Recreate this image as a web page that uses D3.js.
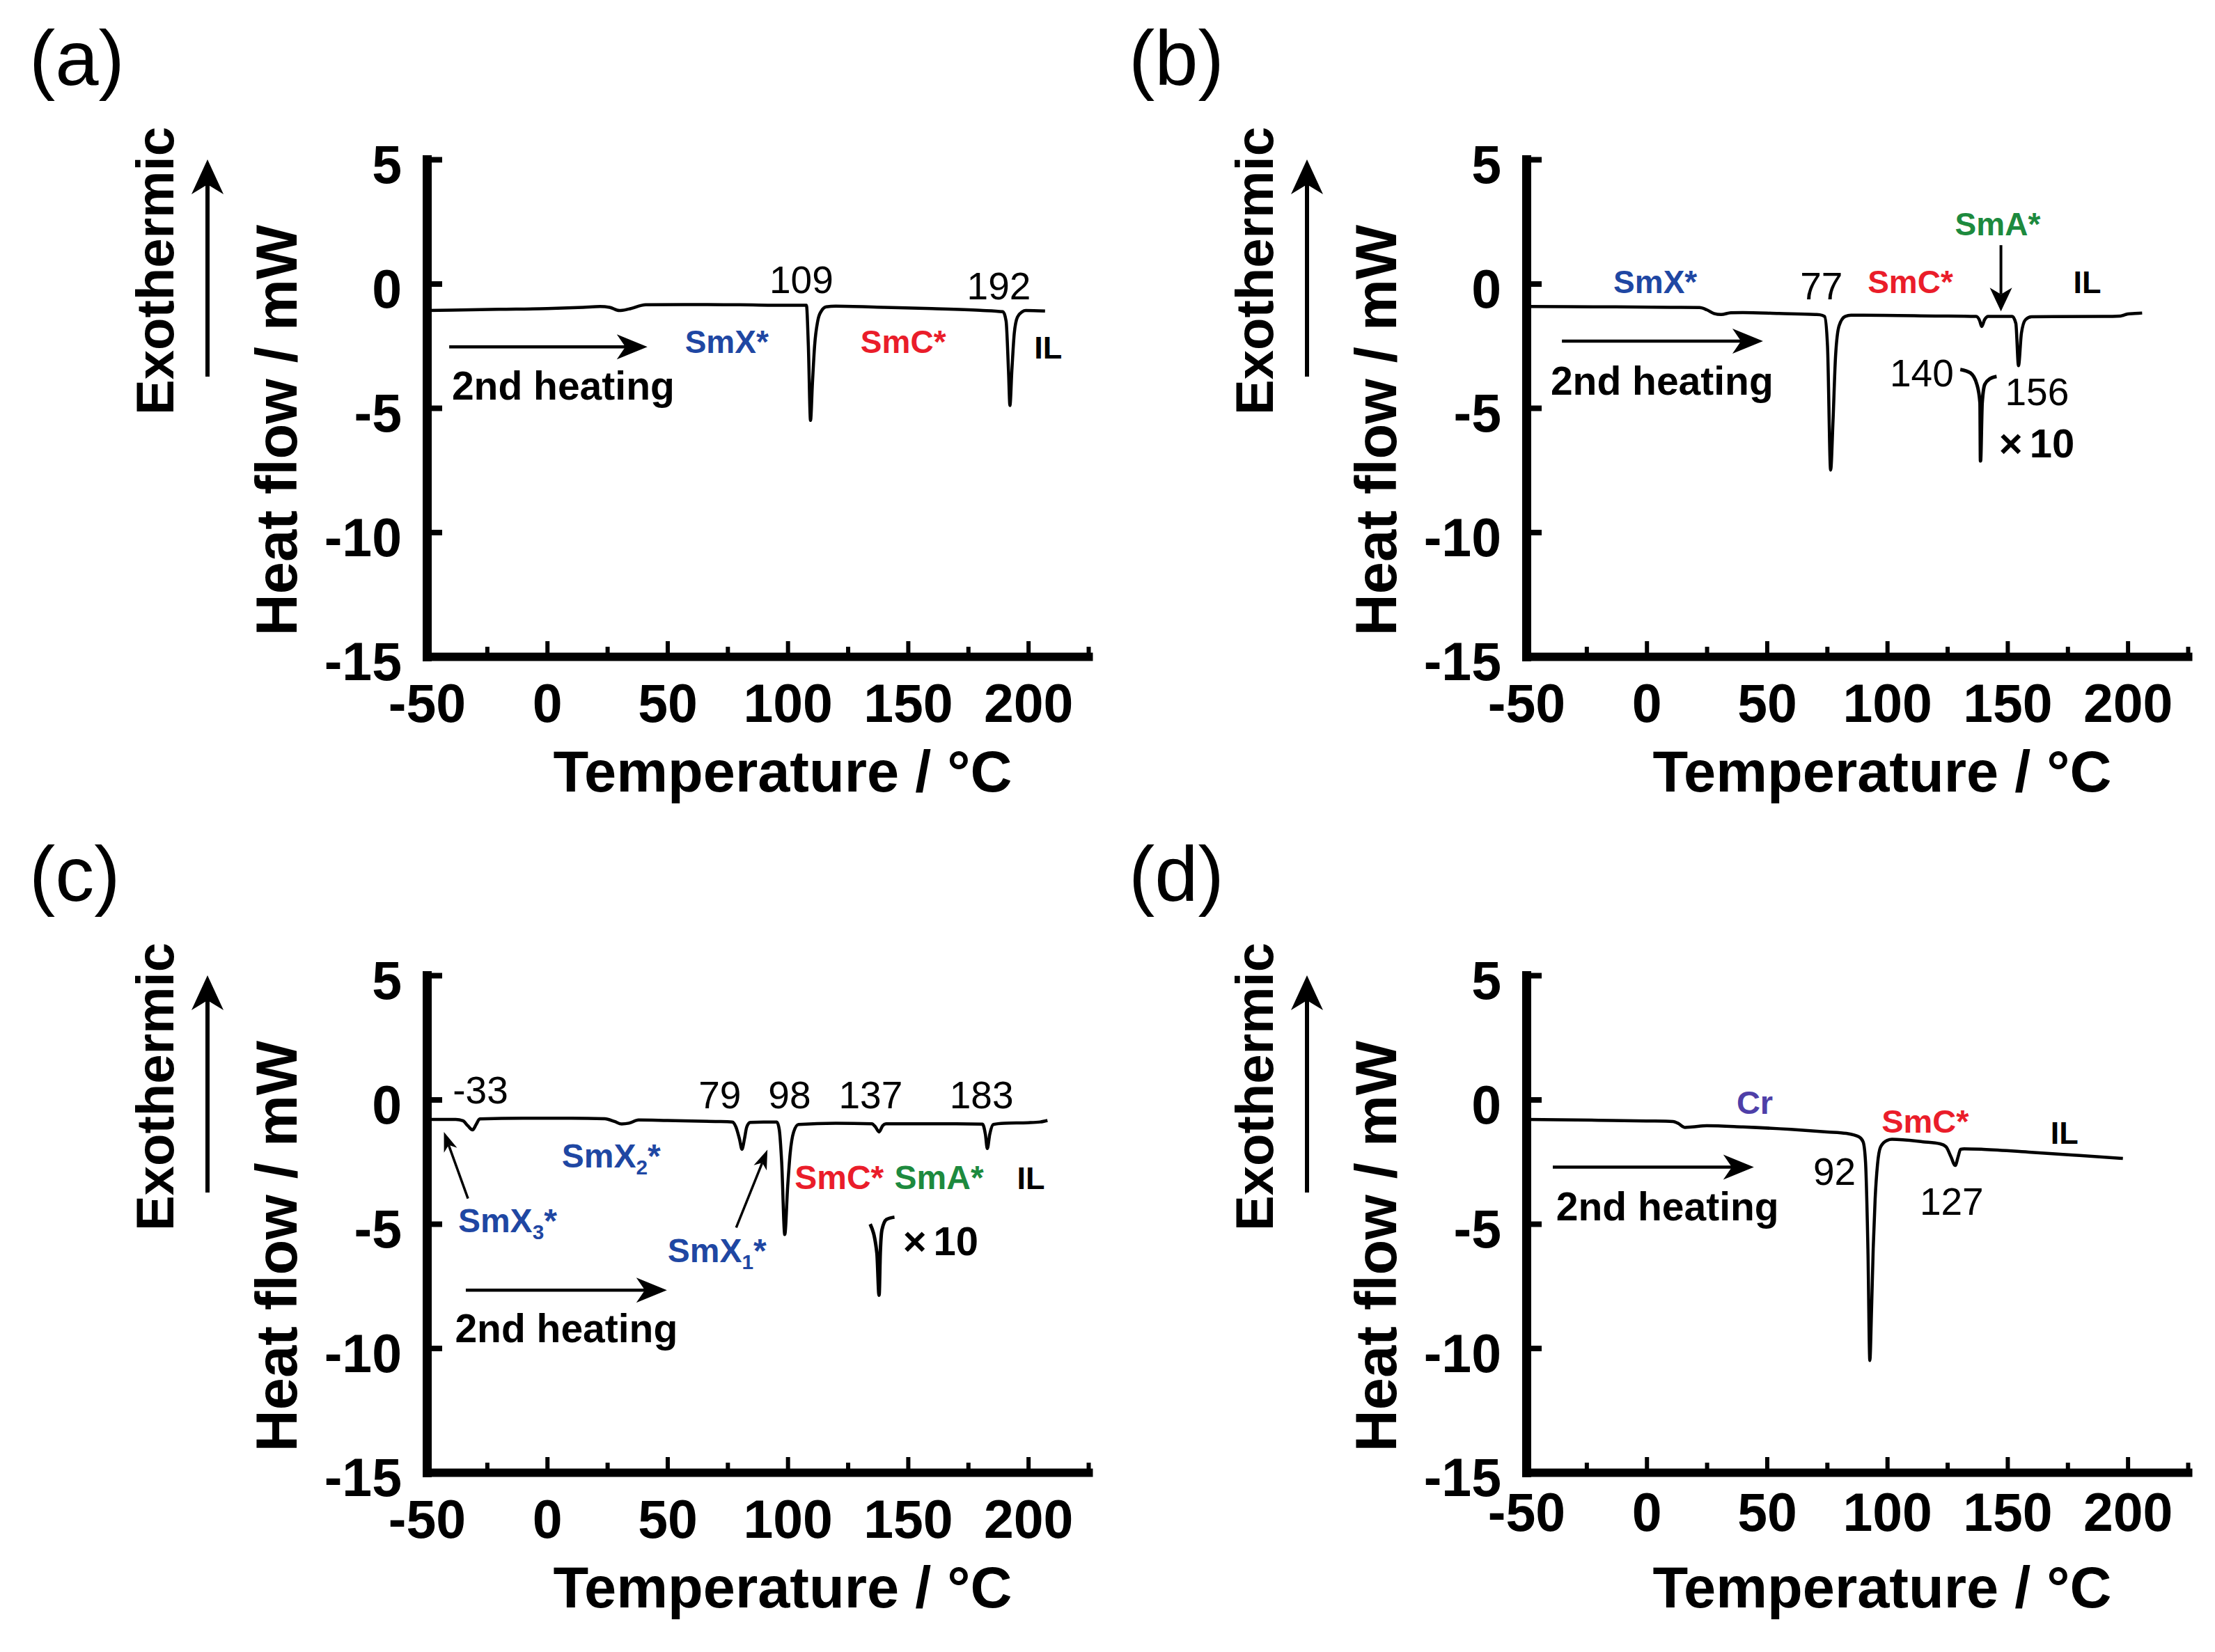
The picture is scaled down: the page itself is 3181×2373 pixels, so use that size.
<!DOCTYPE html>
<html><head><meta charset="utf-8">
<script src="https://cdn.jsdelivr.net/npm/d3@7"></script>
<style>
body{margin:0;background:#fff}
svg{display:block;background:#fff}
text{font-family:"Liberation Sans",Arial,Helvetica,sans-serif}
</style>
</head><body>
<svg id="chart" width="3181" height="2373"></svg>
<script>
// ---------- data ----------
const xTicks = [-50, 0, 50, 100, 150, 200];
const xMinorTicks = [-25, 25, 75, 125, 175, 225];
const yTicks = [5, 0, -5, -10, -15];
const panelLetters = ["(a)", "(b)", "(c)", "(d)"];

const tempA = [-50,-20,0,15,22,26,30,34,41,60,80,100,107.8,108.6,109.5,110.3,111.2,112.5,114,116,120,140,160,180,189.5,190.8,191.8,192.4,193.2,194.2,195.5,197.5,199,207];
const flowA = [-1.08,-1.03,-1.0,-0.95,-0.92,-0.95,-1.08,-1.02,-0.85,-0.84,-0.85,-0.87,-0.87,-2.5,-5.5,-4.0,-2.5,-1.5,-1.1,-0.93,-0.9,-0.95,-1.0,-1.07,-1.13,-1.5,-3.5,-4.9,-3.5,-2.0,-1.35,-1.13,-1.08,-1.1];

const tempB = [-50,-20,10,22,25,28,31,35,40,55,70,72,74,75.2,76.5,77.5,78.5,80,82.5,85,90,120,137,138.5,139.3,140.5,142,152,153.5,154.6,155.8,157.5,160,190,197,200,203,206];
const flowB = [-0.92,-0.93,-0.95,-0.96,-1.05,-1.2,-1.24,-1.17,-1.16,-1.2,-1.24,-1.25,-1.32,-2.5,-7.5,-5.5,-3.0,-1.7,-1.32,-1.27,-1.27,-1.3,-1.32,-1.5,-1.72,-1.45,-1.32,-1.32,-1.6,-3.3,-2.0,-1.45,-1.33,-1.32,-1.3,-1.22,-1.2,-1.18];
const insetTempB = [130.4,134.6,137.3,138.6,138.8,139.5,140.6,142.8,145.5];
const insetFlowB = [-3.45,-3.59,-4.05,-4.8,-7.13,-4.8,-4.05,-3.82,-3.73];

const tempC = [-50,-38,-35,-33,-31,-29.5,-28,-10,10,24,28,31,34,38,50,70,77,78.5,80,81,82,83,84.5,90,95.5,96.5,97.5,98.8,100,101,102.5,104.5,120,135,136.5,138,139.5,141,170,181,182.2,183,184,185.5,190,200,205,208];
const flowC = [-0.8,-0.8,-0.85,-1.05,-1.22,-1.0,-0.78,-0.75,-0.75,-0.77,-0.88,-0.98,-0.95,-0.82,-0.84,-0.88,-0.9,-1.1,-1.6,-2.0,-1.6,-1.1,-0.92,-0.9,-0.9,-1.2,-2.5,-5.43,-3.5,-2.2,-1.3,-1.0,-0.95,-0.97,-1.1,-1.3,-1.05,-0.97,-0.97,-0.99,-1.4,-1.97,-1.4,-1.0,-0.95,-0.93,-0.9,-0.84];
const insetTempC = [134.3,137.1,138.0,138.5,139.2,141.1,144.4];
const insetFlowC = [-5.01,-6.18,-7.87,-6.18,-5.24,-4.82,-4.73];

const tempD = [-50,-20,0,11,13,16,19,25,40,60,75,83,88.3,90,91,92,92.8,93.5,94.2,95,96,97.3,100,102,115,122,124.5,126.5,128.3,129.5,130.5,132,140,160,180,198];
const flowD = [-0.8,-0.83,-0.86,-0.88,-0.95,-1.12,-1.1,-1.05,-1.1,-1.2,-1.3,-1.36,-1.5,-1.7,-2.5,-6,-10.5,-8.5,-6,-4,-2.6,-1.9,-1.64,-1.6,-1.7,-1.78,-1.9,-2.3,-2.65,-2.3,-2.0,-1.98,-2.0,-2.12,-2.25,-2.37];

// annotations: text anchored at (temperature, heat flow)
const notesA = [
  {text:"109", t:105.7, f:-0.38, kind:"num"},
  {text:"192", t:187.8, f:-0.63, kind:"num"},
  {text:"SmX*", t:57.3, f:-2.79, kind:"phase"},
  {text:"SmC*", t:130.3, f:-2.79, kind:"phase"},
  {text:"IL", t:202.5, f:-3.01, kind:"il"},
  {text:"2nd heating", t:-39.6, f:-4.66, kind:"heat"}
];
const notesB = [
  {text:"SmX*", t:-13.8, f:-0.39, kind:"phase"},
  {text:"77", t:72.7, f:-0.63, kind:"num"},
  {text:"SmC*", t:91.9, f:-0.39, kind:"phase"},
  {text:"SmA*", t:128.2, f:1.95, kind:"phase"},
  {text:"IL", t:177.4, f:-0.39, kind:"il"},
  {text:"140", t:114.4, f:-4.13, kind:"num"},
  {text:"156", t:162.3, f:-4.88, kind:"num"},
  {text:"10", t:146.5, f:-6.98, kind:"mag"},
  {text:"2nd heating", t:-39.9, f:-4.46, kind:"heat"}
];
const notesC = [
  {text:"-33", t:-27.7, f:-0.15, kind:"num"},
  {text:"79", t:71.8, f:-0.34, kind:"num"},
  {text:"98", t:100.8, f:-0.34, kind:"num"},
  {text:"137", t:134.5, f:-0.34, kind:"num"},
  {text:"183", t:180.6, f:-0.34, kind:"num"},
  {text:"SmX2*", t:6.1, f:-2.73, kind:"phase"},
  {text:"SmC*", t:102.9, f:-3.61, kind:"phase"},
  {text:"SmA*", t:144.4, f:-3.61, kind:"phase"},
  {text:"IL", t:195.3, f:-3.61, kind:"il"},
  {text:"SmX3*", t:-37.0, f:-5.34, kind:"phase"},
  {text:"SmX1*", t:50.1, f:-6.55, kind:"phase"},
  {text:"10", t:147.9, f:-6.27, kind:"mag"},
  {text:"2nd heating", t:-38.3, f:-9.77, kind:"heat"}
];
const notesD = [
  {text:"Cr", t:37.4, f:-0.57, kind:"phase"},
  {text:"SmC*", t:97.7, f:-1.32, kind:"phase"},
  {text:"IL", t:167.9, f:-1.79, kind:"il"},
  {text:"92", t:78.1, f:-3.42, kind:"num"},
  {text:"127", t:126.8, f:-4.64, kind:"num"},
  {text:"2nd heating", t:-37.6, f:-4.87, kind:"heat"}
];

// arrows: from (t1,f1) to (t2,f2)
const arrowsA = [{t1:-40.7,f1:-2.54,t2:41.7,f2:-2.54,type:"big"}];
const arrowsB = [{t1:-35.2,f1:-2.31,t2:48.4,f2:-2.31,type:"big"},
                 {t1:147.3,f1:1.55,t2:147.3,f2:-1.11,type:"mid"}];
const arrowsC = [{t1:-33.8,f1:-7.67,t2:49.8,f2:-7.67,type:"big"},
                 {t1:-32.9,f1:-3.98,t2:-42.9,f2:-1.30,type:"small"},
                 {t1:78.6,f1:-5.15,t2:91.6,f2:-2.02,type:"small"}];
const arrowsD = [{t1:-39,f1:-2.72,t2:44.6,f2:-2.72,type:"big"}];

// ---------- drawing ----------
const phaseColor = {SmX:"#1f47a3", SmC:"#ea1d2a", SmA:"#1d8a3e", Cr:"#4e3fa8", IL:"#000000"};
const arrowStyle = {
  big:{w:4.5, len:44, hw:36},
  mid:{w:4, len:34, hw:32},
  small:{w:3.5, len:28, hw:20},
  exo:{w:6, len:50, hw:46}
};
const svg = d3.select("#chart");

function arrow(g, x1, y1, x2, y2, st) {
  const dx = x2 - x1, dy = y2 - y1, L = Math.hypot(dx, dy);
  const ux = dx / L, uy = dy / L, px = -uy, py = ux;
  const bx = x2 - ux * st.len, by = y2 - uy * st.len;
  const nx = x2 - ux * st.len * 0.72, ny = y2 - uy * st.len * 0.72;
  g.append("line").attr("x1", x1).attr("y1", y1).attr("x2", nx).attr("y2", ny)
    .attr("stroke", "#000").attr("stroke-width", st.w);
  g.append("path")
    .attr("d", `M${x2},${y2}L${bx + px * st.hw / 2},${by + py * st.hw / 2}L${nx},${ny}L${bx - px * st.hw / 2},${by - py * st.hw / 2}Z`)
    .attr("fill", "#000");
}

function drawPanel(p) {
  const g = svg.append("g");
  const ox = p.ox, oy = p.oy;
  const x = d3.scaleLinear().domain([-50, 225]).range([ox + 613, ox + 1563]);
  const y = d3.scaleLinear().domain([5, -15]).range([oy + 229, oy + 943]);

  // panel letter
  g.append("text").attr("x", ox + 42).attr("y", oy + 122).attr("font-size", 112).text(p.letter);

  // Exothermic + arrow
  g.append("text").attr("transform", `translate(${ox + 249},${oy + 389}) rotate(-90)`)
    .attr("text-anchor", "middle").attr("font-size", 76).attr("font-weight", "bold").text("Exothermic");
  arrow(g, ox + 298, oy + 541, ox + 298, oy + 229, arrowStyle.exo);

  // axis titles
  g.append("text").attr("transform", `translate(${ox + 426},${oy + 618}) rotate(-90)`)
    .attr("text-anchor", "middle").attr("font-size", 83).attr("font-weight", "bold").text("Heat flow / mW");
  g.append("text").attr("x", ox + 1124).attr("y", oy + 1137)
    .attr("text-anchor", "middle").attr("font-size", 83).attr("font-weight", "bold").text("Temperature / \u00B0C");

  // minor x ticks
  const gm = g.append("g").attr("transform", `translate(0,${y(-15)})`)
    .call(d3.axisBottom(x).tickValues(xMinorTicks).tickSize(-14).tickFormat(""));
  gm.select(".domain").remove();
  gm.selectAll(".tick line").attr("stroke-width", 6);

  // major x axis
  const gx = g.append("g").attr("transform", `translate(0,${y(-15)})`)
    .call(d3.axisBottom(x).tickValues(xTicks).tickSize(-22).tickSizeOuter(0)
      .tickPadding(39 + (p.xLabelDy || 0)).tickFormat(d => String(d)));
  gx.select(".domain").attr("stroke-width", 12).attr("stroke-linecap", "square");
  gx.selectAll(".tick line").attr("stroke-width", 6);
  gx.selectAll(".tick text").attr("font-size", 77).attr("font-weight", "bold")
    .attr("font-family", "Liberation Sans, Arial, sans-serif").attr("fill", "#000");

  // y axis
  const gy = g.append("g").attr("transform", `translate(${x(-50)},0)`)
    .call(d3.axisLeft(y).tickValues(yTicks).tickSize(-22).tickSizeOuter(0)
      .tickPadding(36).tickFormat(d => String(d)));
  gy.select(".domain").attr("stroke-width", 13).attr("stroke-linecap", "square");
  gy.selectAll(".tick line").attr("stroke-width", 8);
  gy.selectAll(".tick text").attr("font-size", 77).attr("font-weight", "bold").attr("dy", "0.44em")
    .attr("font-family", "Liberation Sans, Arial, sans-serif").attr("fill", "#000");

  // DSC curve
  const line = d3.line().x(d => x(d[0])).y(d => y(d[1])).curve(d3.curveMonotoneX);
  g.append("path").datum(d3.zip(p.temps, p.flows)).attr("d", line)
    .attr("fill", "none").attr("stroke", "#000").attr("stroke-width", 4.5)
    .attr("stroke-linejoin", "round");
  if (p.insetT) {
    g.append("path").datum(d3.zip(p.insetT, p.insetF)).attr("d", line)
      .attr("fill", "none").attr("stroke", "#000").attr("stroke-width", 5)
      .attr("stroke-linejoin", "round");
  }

  // arrows
  p.arrows.forEach(a => arrow(g, x(a.t1), y(a.f1), x(a.t2), y(a.f2), arrowStyle[a.type]));

  // notes
  p.notes.forEach(n => {
    const X = x(n.t), Y = y(n.f);
    if (n.kind === "num") {
      g.append("text").attr("x", X).attr("y", Y).attr("text-anchor", "middle")
        .attr("font-size", 55).text(n.text);
    } else if (n.kind === "heat") {
      g.append("text").attr("x", X).attr("y", Y).attr("font-size", 57).attr("font-weight", "bold").text(n.text);
    } else if (n.kind === "mag") {
      const t = g.append("text").attr("x", X).attr("y", Y).attr("font-size", 58).attr("font-weight", "bold");
      t.append("tspan").text("\u00D7");
      t.append("tspan").attr("dx", 10).text(n.text);
    } else if (n.kind === "il") {
      g.append("text").attr("x", X).attr("y", Y).attr("font-size", 45).attr("font-weight", "bold")
        .attr("fill", phaseColor.IL).text(n.text);
    } else {
      const size = p.phaseSize;
      const key = n.text.replace(/[\d*]/g, "");
      const t = g.append("text").attr("x", X).attr("y", Y).attr("font-size", size)
        .attr("font-weight", "bold").attr("fill", phaseColor[key] || "#000");
      const m = n.text.match(/^(SmX)(\d)(\*)$/);
      if (m) {
        t.append("tspan").text(m[1]);
        t.append("tspan").attr("font-size", size * 0.62).attr("dy", size * 0.2).text(m[2]);
        t.append("tspan").attr("dy", -size * 0.2).text(m[3]);
      } else t.text(n.text);
    }
  });
}

drawPanel({ox:0, oy:0, letter:panelLetters[0], temps:tempA, flows:flowA, notes:notesA, arrows:arrowsA, phaseSize:46});
drawPanel({ox:1579, oy:0, letter:panelLetters[1], temps:tempB, flows:flowB, insetT:insetTempB, insetF:insetFlowB, notes:notesB, arrows:arrowsB, phaseSize:46});
drawPanel({ox:0, oy:1172, letter:panelLetters[2], temps:tempC, flows:flowC, insetT:insetTempC, insetF:insetFlowC, notes:notesC, arrows:arrowsC, phaseSize:48});
drawPanel({ox:1579, oy:1172, letter:panelLetters[3], temps:tempD, flows:flowD, notes:notesD, arrows:arrowsD, phaseSize:47, xLabelDy:-10});
</script>
</body></html>
